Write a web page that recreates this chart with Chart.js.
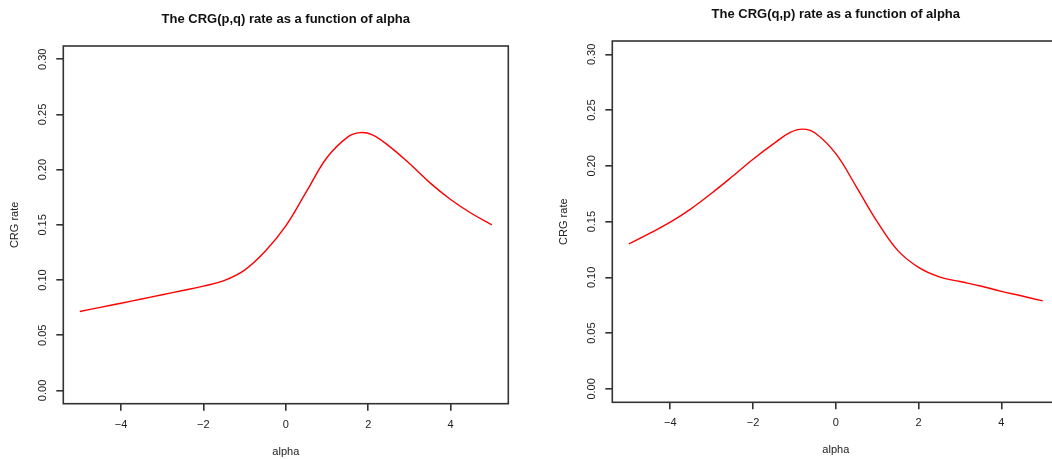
<!DOCTYPE html>
<html>
<head>
<meta charset="utf-8">
<script src="https://cdn.jsdelivr.net/npm/chart.js@4.4.1/dist/chart.umd.min.js"></script>
<style>
  html, body { margin: 0; padding: 0; background: #fff; overflow: hidden; width: 1052px; height: 459px; }
  canvas { position: absolute; top: 0; }
  #chartPQ { left: 0; }
  #chartQP { left: 525px; }
</style>
</head>
<body>
<canvas id="chartPQ" width="525" height="459"></canvas>
<canvas id="chartQP" width="560" height="459"></canvas>
<script>
// CRG(p,q) curve
const alphaPQ = [-5, -4.5, -4, -3.5, -3, -2.5, -2, -1.5, -1, -0.5, 0, 0.5, 1, 1.5, 1.8, 2.1, 2.5, 3, 3.5, 4, 4.5, 5];
const ratePQ  = [0.0715, 0.0753, 0.0790, 0.0828, 0.0867, 0.0905, 0.0945, 0.0995, 0.1090, 0.1260, 0.1490, 0.1800,
                 0.2110, 0.2295, 0.2335, 0.2315, 0.2215, 0.2055, 0.1880, 0.1730, 0.1605, 0.1500];

// CRG(q,p) curve, right panel
const alphaQP = [-5, -4.5, -4, -3.5, -3, -2.5, -2, -1.5, -1.1, -0.8, -0.5, 0, 0.5, 1, 1.5, 2, 2.5, 3, 3.5, 4, 4.5, 5];
const rateQP  = [0.1300, 0.1395, 0.1495, 0.1615, 0.1755, 0.1905, 0.2060, 0.2200, 0.2300, 0.2330, 0.2295, 0.2110,
                 0.1810, 0.1500, 0.1240, 0.1090, 0.1005, 0.0963, 0.0923, 0.0875, 0.0833, 0.0789];

const xTicks = [-4, -2, 0, 2, 4];
const yTicks = [0, 0.05, 0.10, 0.15, 0.20, 0.25, 0.30];

const FONT = '"Liberation Sans", Arial, Helvetica, sans-serif';

// R-style box, rotated y labels and titles
const rTextPlugin = {
  id: 'rText',
  afterDraw(chart, args, opts) {
    const ctx = chart.ctx;
    const a = chart.chartArea;
    const xs = chart.scales.x, ys = chart.scales.y;
    const cx = (a.left + a.right) / 2, cy = (a.top + a.bottom) / 2;
    ctx.save();
    ctx.strokeStyle = '#333';
    ctx.lineWidth = 1.6;
    ctx.strokeRect(a.left, a.top, a.right - a.left, a.bottom - a.top);

    ctx.fillStyle = '#222';
    ctx.textAlign = 'center';
    ctx.textBaseline = 'middle';
    ctx.font = '11px ' + FONT;
    xs.ticks.forEach(t => {
      const lab = t.value < 0 ? '\u2212' + Math.abs(t.value) : String(t.value);
      ctx.fillText(lab, xs.getPixelForValue(t.value), a.bottom + 21);
    });
    ys.ticks.forEach(t => {
      ctx.save();
      ctx.translate(a.left - 20.5, ys.getPixelForValue(t.value));
      ctx.rotate(-Math.PI / 2);
      ctx.fillText(t.value.toFixed(2), 0, 0);
      ctx.restore();
    });
    ctx.fillText('alpha', cx, a.bottom + 48);
    ctx.save();
    ctx.translate(a.left - 48, cy);
    ctx.rotate(-Math.PI / 2);
    ctx.fillText('CRG rate', 0, 0);
    ctx.restore();

    ctx.fillStyle = '#111';
    ctx.font = 'bold 13px ' + FONT;
    ctx.fillText(opts.title, cx, a.top - 27);
    ctx.restore();
  }
};

function makeChart(id, title, alpha, rate, pad) {
  return new Chart(document.getElementById(id), {
    type: 'line',
    data: {
      datasets: [{
        data: alpha.map((x, i) => ({ x: x, y: rate[i] })),
        borderColor: 'rgb(255,0,0)',
        borderWidth: 1.4,
        pointRadius: 0,
        tension: 0.4,
        fill: false
      }]
    },
    options: {
      responsive: false,
      animation: false,
      layout: { padding: pad },
      plugins: {
        legend: { display: false },
        tooltip: { enabled: false },
        rText: { title: title }
      },
      scales: {
        x: {
          type: 'linear',
          min: -5.4,
          max: 5.4,
          afterBuildTicks: s => { s.ticks = xTicks.map(v => ({ value: v })); },
          ticks: { display: false },
          grid: { drawOnChartArea: false, drawTicks: true, tickLength: 7, color: '#333', lineWidth: 1.6 },
          border: { display: false }
        },
        y: {
          type: 'linear',
          min: -0.012,
          max: 0.312,
          afterBuildTicks: s => { s.ticks = yTicks.map(v => ({ value: v })); },
          ticks: { display: false },
          grid: { drawOnChartArea: false, drawTicks: true, tickLength: 7, color: '#333', lineWidth: 1.6 },
          border: { display: false }
        }
      }
    },
    plugins: [rTextPlugin]
  });
}

makeChart('chartPQ', 'The CRG(p,q) rate as a function of alpha', alphaPQ, ratePQ,
  { left: 56.3, right: 16.7, top: 46, bottom: 48.3 });
makeChart('chartQP', 'The CRG(q,p) rate as a function of alpha', alphaQP, rateQP,
  { left: 80.3, right: 25.7, top: 41, bottom: 49.7 });
</script>
</body>
</html>
